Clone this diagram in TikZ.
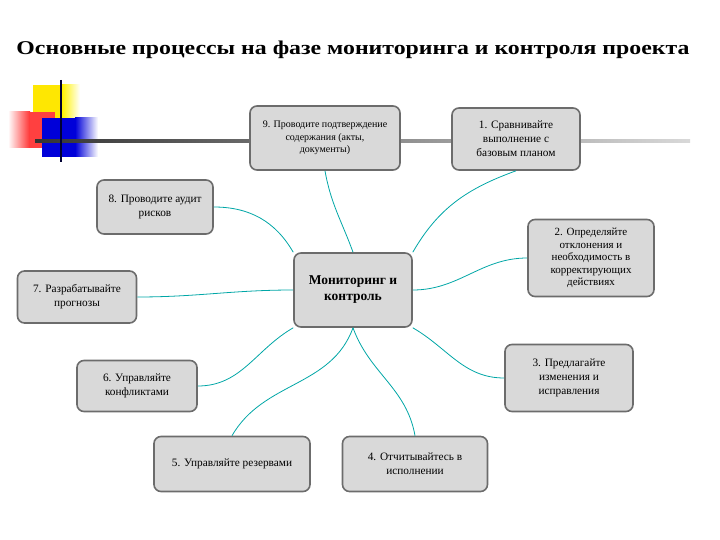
\documentclass[tikz,border=0pt]{standalone}
\usepackage{fontspec}
\setmainfont{Liberation Serif}
\begin{document}
\begin{tikzpicture}[x=1pt,y=-1pt,
 box/.style={draw=gray!85!black,line width=1.6pt,fill=black!15,rounded corners=7pt,align=center,inner sep=2pt,font=\fontsize{11.3}{14}\selectfont},
 conn/.style={draw=teal!70!cyan,line width=0.8pt}]
\useasboundingbox (0,0) rectangle (720,540);
\node[font=\bfseries\fontsize{19.5}{22}\selectfont,transform shape,xscale=1.22] (title) at (353,50) {Основные процессы на фазе мониторинга и контроля проекта};
% decoration
\fill[yellow!90!orange] (33,85) rectangle (62,120);
\shade[left color=yellow!90!orange,right color=white] (62,85) rectangle (80,120);
\shade[left color=white,right color=red!80] (8,112) rectangle (30,148);
\fill[red!75] (30,112) rectangle (55,148);
\fill[blue!85!black] (42,118) rectangle (75,157);
\shade[left color=blue!85!black,right color=white] (75,118) rectangle (98,157);
\shade[left color=black!80,right color=black!15] (35,140) rectangle (690,142.5);
\draw[line width=2pt,black!80!blue] (61,80) -- (61,162);
\node[box,minimum width=118pt,minimum height=74pt,font=\bfseries\fontsize{13.5}{16}\selectfont] (c) at (353,290) {Мониторинг и\\контроль};
\node[box,minimum width=150pt,minimum height=64pt,font=\fontsize{10}{12.5}\selectfont] (n9) at (325,138) {9. Проводите подтверждение\\содержания (акты,\\документы)};
\node[box,minimum width=128pt,minimum height=62pt] (n1) at (516,139) {1. Сравнивайте\\выполнение с\\базовым планом};
\node[box,minimum width=116pt,minimum height=54pt] (n8) at (155,207) {8. Проводите аудит\\рисков};
\node[box,minimum width=126pt,minimum height=77pt,font=\fontsize{11}{12.5}\selectfont] (n2) at (591,258) {2. Определяйте\\отклонения и\\необходимость в\\корректирующих\\действиях};
\node[box,minimum width=119pt,minimum height=52pt] (n7) at (77,297) {7. Разрабатывайте\\прогнозы};
\node[box,minimum width=128pt,minimum height=67pt] (n3) at (569,378) {3. Предлагайте\\изменения и\\исправления};
\node[box,minimum width=120pt,minimum height=51pt] (n6) at (137,386) {6. Управляйте\\конфликтами};
\node[box,minimum width=156pt,minimum height=55pt] (n5) at (232,464) {5. Управляйте резервами};
\node[box,minimum width=145pt,minimum height=55pt] (n4) at (415,464) {4. Отчитывайтесь в\\исполнении};
\draw[conn] (c.north) to[out=110,in=-80] (n9.south);
\draw[conn] (c.north east) to[out=60,in=200] (n1.south);
\draw[conn] (c.north west) to[out=120,in=0] (n8.east);
\draw[conn] (c.east) to[out=0,in=180] (n2.west);
\draw[conn] (c.west) to[out=180,in=0] (n7.east);
\draw[conn] (c.south east) to[out=-30,in=180] (n3.west);
\draw[conn] (c.south west) to[out=210,in=0] (n6.east);
\draw[conn] (c.south) to[out=-110,in=60] (n5.north);
\draw[conn] (c.south) to[out=-70,in=100] (n4.north);
\end{tikzpicture}
\end{document}
